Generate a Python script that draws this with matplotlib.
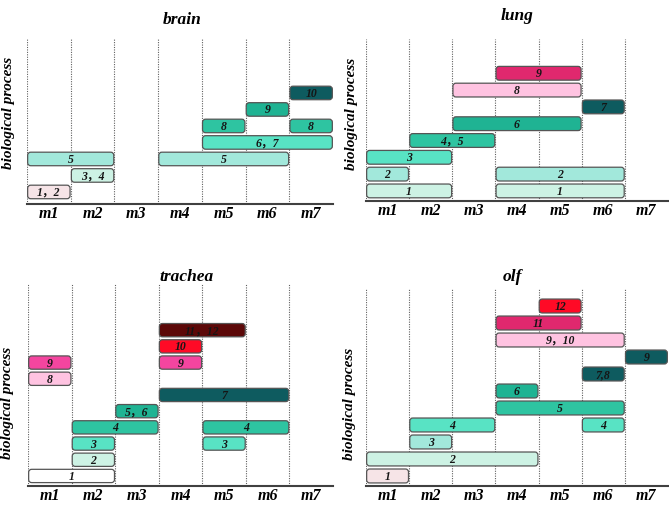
import matplotlib
matplotlib.use("Agg")
import matplotlib.pyplot as plt
from matplotlib.patches import FancyBboxPatch

stages = ["m1", "m2", "m3", "m4", "m5", "m6", "m7"]

# palette
C_PPINK = "#f6e4e7"
C_PMINT = "#cdf2e4"
C_LTEAL = "#a2e8db"
C_AQUA = "#58e3c4"
C_MTEAL = "#2ec4a1"
C_TEAL = "#1fb393"
C_DTEAL = "#0e5b5f"
C_LPINK = "#ffc3e1"
C_HPINK = "#f4459f"
C_CRIM = "#e0286e"
C_RED = "#ff0a26"
C_MAROON = "#5c0808"
C_WHITE = "#ffffff"

# brain
brain_labels = ["1，2", "3，4", "5", "5", "6，7", "8", "8", "9", "10"]
brain_rows = [1, 2, 3, 3, 4, 5, 5, 6, 7]
brain_start = ["m1", "m2", "m1", "m4", "m5", "m5", "m7", "m6", "m7"]
brain_end = ["m1", "m2", "m2", "m6", "m7", "m5", "m7", "m6", "m7"]
brain_colors = [C_PPINK, C_PMINT, C_LTEAL, C_LTEAL, C_AQUA, C_MTEAL, C_MTEAL, C_TEAL, C_DTEAL]

# lung
lung_labels = ["1", "1", "2", "2", "3", "4，5", "6", "7", "8", "9"]
lung_rows = [1, 1, 2, 2, 3, 4, 5, 6, 7, 8]
lung_start = ["m1", "m4", "m1", "m4", "m1", "m2", "m3", "m6", "m3", "m4"]
lung_end = ["m2", "m6", "m1", "m6", "m2", "m3", "m5", "m6", "m5", "m5"]
lung_colors = [C_PMINT, C_PMINT, C_LTEAL, C_LTEAL, C_AQUA, C_MTEAL, C_TEAL, C_DTEAL, C_LPINK, C_CRIM]

# trachea
trachea_labels = ["1", "2", "3", "3", "4", "4", "5，6", "7", "8", "9", "9", "10", "11，12"]
trachea_rows = [1, 2, 3, 3, 4, 4, 5, 6, 7, 8, 8, 9, 10]
trachea_start = ["m1", "m2", "m2", "m5", "m2", "m5", "m3", "m4", "m1", "m1", "m4", "m4", "m4"]
trachea_end = ["m2", "m2", "m2", "m5", "m3", "m6", "m3", "m6", "m1", "m1", "m4", "m4", "m5"]
trachea_colors = [C_WHITE, C_PMINT, C_AQUA, C_AQUA, C_MTEAL, C_MTEAL, C_TEAL, C_DTEAL, C_LPINK,
                  C_HPINK, C_HPINK, C_RED, C_MAROON]

# olf
olf_labels = ["1", "2", "3", "4", "4", "5", "6", "7,8", "9", "9，10", "11", "12"]
olf_rows = [1, 2, 3, 4, 4, 5, 6, 7, 8, 9, 10, 11]
olf_start = ["m1", "m1", "m2", "m2", "m6", "m4", "m4", "m6", "m7", "m4", "m4", "m5"]
olf_end = ["m1", "m4", "m2", "m3", "m6", "m6", "m4", "m6", "m7", "m6", "m5", "m5"]
olf_colors = [C_PPINK, C_PMINT, C_LTEAL, C_AQUA, C_AQUA, C_MTEAL, C_TEAL, C_DTEAL, C_DTEAL,
              C_LPINK, C_CRIM, C_RED]

W, H = 669, 506
fig = plt.figure(figsize=(W / 100, H / 100), dpi=100)

SERIF = ["Liberation Serif", "Noto Sans CJK SC", "DejaVu Serif"]

panels = [
    # title, labels, rows, start, end, colors, (left, top, right, bottom px), ylim, title_y px, title_x px, ylabel coords
    ("brain", brain_labels, brain_rows, brain_start, brain_end, brain_colors,
     (27, 39, 333, 205), (0.27, 10.33), 20, 182, (-0.038, 0.554)),
    ("lung", lung_labels, lung_rows, lung_start, lung_end, lung_colors,
     (366, 40, 668, 202), (0.40, 10.04), 16, 517, (-0.025, 0.543)),
    ("trachea", trachea_labels, trachea_rows, trachea_start, trachea_end, trachea_colors,
     (28, 285, 333, 487), (0.38, 12.85), 277, 187, (-0.045, 0.414)),
    ("olf", olf_labels, olf_rows, olf_start, olf_end, olf_colors,
     (366, 289, 668, 487), (0.41, 12.06), 277, 512, (-0.032, 0.422)),
]

for (title, labels, rows, start, end, colors, box, ylim, ty, tx, ylc) in panels:
    l, t, r, b = box
    ax = fig.add_axes([l / W, 1 - b / H, (r - l) / W, (b - t) / H])
    ax.set_xlim(0, len(stages))
    ax.set_ylim(*ylim)
    xpx = (r - l) / len(stages)
    ypx = (b - t) / (ylim[1] - ylim[0])
    asp = xpx / ypx
    for k in range(len(stages)):
        ax.axvline(k, color="#606060", lw=0.8, ls=(0, (1, 1.2)), zorder=1)
    bh = 0.82
    for lab, row, s, e, c in zip(labels, rows, start, end, colors):
        x0 = stages.index(s)
        x1 = stages.index(e) + 1
        patch = FancyBboxPatch((x0 + 0.015, row - bh / 2), (x1 - x0) - 0.03, bh,
                               boxstyle="round,pad=0,rounding_size=0.07",
                               mutation_aspect=asp,
                               facecolor=c, edgecolor="#555555", lw=0.9, zorder=3)
        ax.add_patch(patch)
        ax.text((x0 + x1) / 2, row, lab, ha="center", va="center",
                family=SERIF, fontweight="bold", fontstyle="italic",
                fontsize=8.5, color="#151515", zorder=4)
    ax.set_xticks([k + 0.5 for k in range(len(stages))])
    ax.set_xticklabels(stages, family=SERIF, fontweight="bold", fontstyle="italic", fontsize=11.5)
    ax.tick_params(axis="x", length=0, pad=0.5)
    ax.set_yticks([])
    for sp in ["top", "right", "left"]:
        ax.spines[sp].set_visible(False)
    ax.spines["bottom"].set_color("#404040")
    ax.spines["bottom"].set_linewidth(1.5)
    ax.set_ylabel("biological process", family=SERIF, fontweight="bold",
                  fontstyle="italic", fontsize=11)
    ax.yaxis.set_label_coords(*ylc)
    fig.text(tx / W, 1 - ty / H, title, ha="center", va="center", family=SERIF,
             fontweight="bold", fontstyle="italic", fontsize=12.5)

fig.savefig("out.png", dpi=100)
